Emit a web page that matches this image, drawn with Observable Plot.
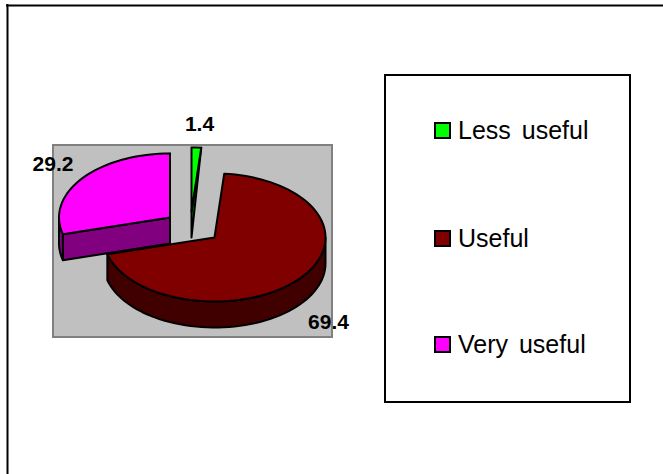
<!DOCTYPE html>
<html><head><meta charset="utf-8">
<script src="https://cdn.jsdelivr.net/npm/d3@7"></script>
<script src="https://cdn.jsdelivr.net/npm/@observablehq/plot@0.6"></script>
<style>html,body{margin:0;padding:0;background:#fff}svg{display:block}svg text{word-spacing:4px}</style>
</head><body><div id="chart"></div>
<script>
const categories = ["Less useful", "Useful", "Very useful"];
const values = [1.4, 69.4, 29.2];
const topColors = ["#00ff00", "#800000", "#ff00ff"];
const sideColors = ["#008000", "#400000", "#800080"];

// Layout of the pie
const hub = [[191, 211], [214, 237], [169.5, 217]];
const rx = 111, ry = 64, depth = 26;

const arcs = d3.pie().sort(null).value(d => d)(values);
const pt = (c, a, dz = 0) => ({x: c[0] + rx * Math.sin(a), y: c[1] - ry * Math.cos(a) + dz});
const arcPts = (c, a0, a1, dz = 0) => {
  const n = Math.max(2, Math.ceil((a1 - a0) / 0.05));
  return d3.range(n + 1).map(i => pt(c, a0 + (a1 - a0) * i / n, dz));
};
const layers = [];
const add = (pts, fill) => layers.push({pts, fill});

const front = (a0, a1) => [Math.max(a0, Math.PI / 2), Math.min(a1, 3 * Math.PI / 2)];
for (const i of [1, 0, 2]) {
  const {startAngle: a0, endAngle: a1} = arcs[i];
  const c = hub[i];
  const h = {x: c[0], y: c[1]}, hd = {x: c[0], y: c[1] + depth};
  if (i === 0) add([h, pt(c, a1), hd], sideColors[i]);
  if (i === 2) {
    const e = pt(c, a0);
    add([h, e, {x: e.x, y: e.y + depth}, hd], sideColors[i]);
    const p = pt(c, a1);
    add([h, p, {x: p.x, y: p.y + depth}, hd], sideColors[i]);
  }
  const [f0, f1] = front(a0, a1);
  if (f1 > f0) add([...arcPts(c, f0, f1), ...arcPts(c, f0, f1, depth).reverse()], sideColors[i]);
  add([h, ...arcPts(c, a0, a1)], topColors[i]);
}
const polyRows = layers.flatMap((l, k) => l.pts.map(p => ({...p, k, fill: l.fill})));

const legendY = [130.5, 238.5, 344.5];
const legendRows = categories.map((name, i) => ({name, y: legendY[i], fill: topColors[i]}));
const labels = [
  {t: "1.4", x: 199, y: 124},
  {t: "69.4", x: 328, y: 322},
  {t: "29.2", x: 52.5, y: 164}
];

const chart = Plot.plot({
  width: 663, height: 474, margin: 0,
  x: {type: "identity", axis: null},
  y: {type: "identity", axis: null},
  marks: [
    Plot.ruleY([5], {x1: 6, x2: 663, stroke: "#000", strokeWidth: 2}),
    Plot.ruleX([7], {y1: 4, y2: 474, stroke: "#000", strokeWidth: 2}),
    Plot.rect([0], {x1: 53, x2: 332, y1: 145, y2: 337, fill: "#c0c0c0", stroke: "#808080", strokeWidth: 2}),
    Plot.line(polyRows, {x: "x", y: "y", z: "k", fill: "fill", stroke: "#000", strokeWidth: 2, curve: "linear-closed", strokeLinejoin: "round"}),
    Plot.text(labels, {x: "x", y: "y", text: "t", fontSize: 21, fontWeight: "bold", fill: "#000", fontFamily: "Liberation Sans"}),
    Plot.rect([0], {x1: 385, x2: 630, y1: 75, y2: 402, fill: "#fff", stroke: "#000", strokeWidth: 2}),
    Plot.rect(legendRows, {x1: () => 435, x2: () => 450, y1: d => d.y - 7.5, y2: d => d.y + 7.5, fill: "fill", stroke: "#000", strokeWidth: 2}),
    Plot.text(legendRows, {x: () => 457.5, y: "y", text: "name", textAnchor: "start", fontSize: 25, fill: "#000", fontFamily: "Liberation Sans"})
  ]
});
document.getElementById("chart").append(chart);
</script></body></html>
